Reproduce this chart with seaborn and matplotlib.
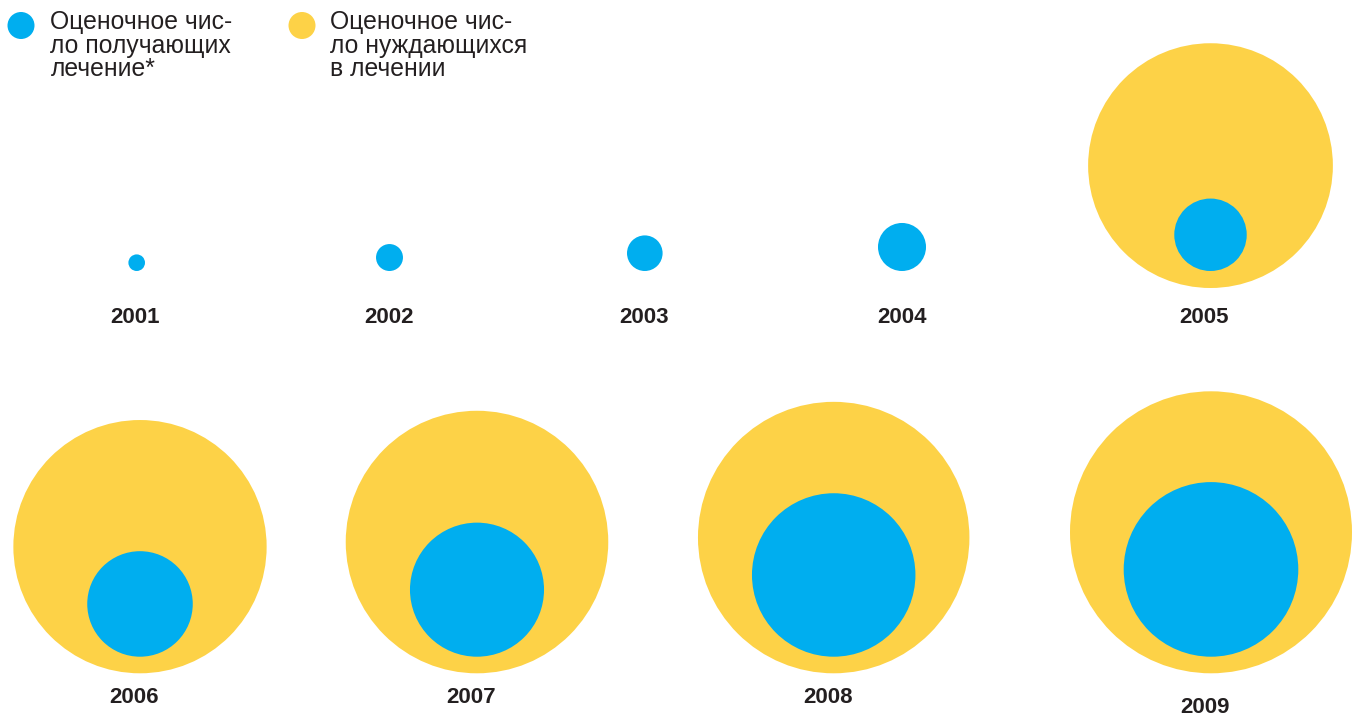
import numpy as np
import pandas as pd
import seaborn as sns
import matplotlib.pyplot as plt

# data (millions of people, read from circle areas)
years = [2001, 2002, 2003, 2004, 2005, 2006, 2007, 2008, 2009]
receiving = [0.052, 0.137, 0.239, 0.435, 0.99, 2.10, 3.39, 5.04, 5.75]
needing = [np.nan, np.nan, np.nan, np.nan, 11.3, 12.1, 13.0, 13.9, 15.0]

legend_receiving = "Оценочное чис-\nло получающих\nлечение*"
legend_needing = "Оценочное чис-\nло нуждающихся\nв лечении"

# layout (pixels)
W, H, DPI = 1354, 717, 100
px_per_sqrt = 141 / np.sqrt(15.0)   # radius in px per sqrt(million)
centers_x = [136.7, 389.5, 644.8, 902, 1210.5, 140, 477, 833.7, 1211]
row = [0, 0, 0, 0, 0, 1, 1, 1, 1]
outer_bottom = [288, 673.3]
inner_bottom = [271, 656.7]
label_x = [135, 388.7, 643.7, 902, 1204.5, 134.5, 471, 827.7, 1204.7]
label_base = [322.7, 322.7, 322.7, 322.7, 322.7, 703.3, 703.3, 703.3, 713.3]

BLUE = "#00AEEF"
YELLOW = "#FDD247"
TEXT = "#231F20"

sns.set_style("white")
plt.rcParams['font.family'] = ['Liberation Sans', 'DejaVu Sans']

df = pd.DataFrame({"year": years, "receiving": receiving, "needing": needing,
                   "cx": centers_x, "row": row})
df["r_in"] = px_per_sqrt * np.sqrt(df["receiving"])
df["r_out"] = px_per_sqrt * np.sqrt(df["needing"])
df["y_in"] = [inner_bottom[r] for r in df["row"]] - df["r_in"]
df["y_out"] = [outer_bottom[r] for r in df["row"]] - df["r_out"]


def area_pt2(r_px):
    # scatter size is the square of the marker diameter in points
    return (2 * r_px * 72 / DPI) ** 2


fig = plt.figure(figsize=(W / DPI, H / DPI), dpi=DPI)
ax = fig.add_axes([0, 0, 1, 1])

outer = df.dropna(subset=["needing"])
sns.scatterplot(x=outer["cx"], y=outer["y_out"], s=area_pt2(outer["r_out"]).values,
                color=YELLOW, linewidth=0, ax=ax, zorder=2)
sns.scatterplot(x=df["cx"], y=df["y_in"], s=area_pt2(df["r_in"]).values,
                color=BLUE, linewidth=0, ax=ax, zorder=3)

for yr, x, y in zip(years, label_x, label_base):
    ax.text(x, y, str(yr), ha="center", va="baseline", fontsize=16,
            fontweight="bold", color=TEXT)

# legend: dots and three-line captions
ax.scatter([21, 302], [25.5, 25.5], s=area_pt2(13.5), c=[BLUE, YELLOW],
           linewidths=0, zorder=3)
for x0, caption in [(50.5, legend_receiving), (330.5, legend_needing)]:
    for i, line in enumerate(caption.split("\n")):
        ax.text(x0, 28.5 + 24 * i, line, ha="left", va="baseline",
                fontsize=17.8, color=TEXT)

ax.set_xlim(0, W)
ax.set_ylim(H, 0)
ax.set_axis_off()

fig.savefig("out.png", dpi=DPI)
